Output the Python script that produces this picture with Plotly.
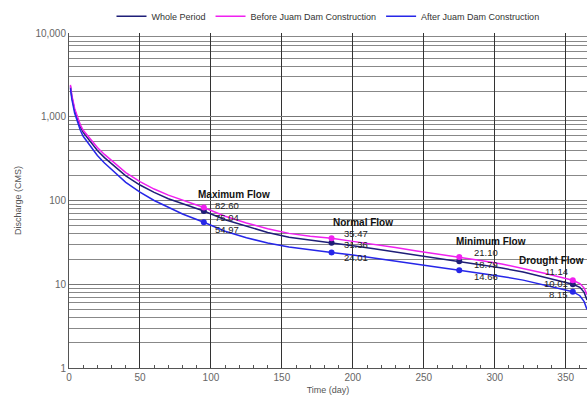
import math
import plotly.graph_objects as go

# ---- data ----
days = [1, 2, 4, 6, 8, 10, 15, 20, 25, 30, 40, 50, 60, 70, 80, 95, 110, 125, 140, 155,
        170, 185, 200, 215, 230, 245, 260, 275, 290, 305, 320, 335, 345, 355, 360, 363, 365]
whole = [2300, 1720, 1190, 930, 760, 650, 500, 395, 325, 275, 197, 153, 125, 105, 91,
         75.04, 59, 49, 41.5, 36.5, 33.5, 31.36, 28.8, 26.5, 24.3, 22.2, 20.4, 18.79, 17.1,
         15.6, 14, 12.2, 11.1, 10.01, 9.2, 8, 6.5]
before = [2400, 1800, 1250, 980, 800, 690, 540, 430, 355, 300, 215, 168, 137, 116, 101,
          82.6, 65, 54, 46, 40.5, 37.5, 35.47, 32.5, 30, 27.5, 25, 23, 21.1, 19.2,
          17.5, 15.5, 13.5, 12.3, 11.14, 10.2, 9, 7.5]
after = [2200, 1620, 1100, 850, 690, 585, 445, 345, 280, 235, 165, 126, 100, 83, 69,
         54.97, 43, 36, 31, 27.8, 25.6, 24.01, 22.3, 20.6, 19, 17.5, 16, 14.66, 13.5,
         12.4, 11.2, 9.8, 8.9, 8.15, 7.3, 6.2, 5]

flow_names = ["Maximum Flow", "Normal Flow", "Minimum Flow", "Drought Flow"]
flow_days = [95, 185, 275, 355]
flow_before = [82.60, 35.47, 21.10, 11.14]
flow_whole = [75.04, 31.36, 18.79, 10.01]
flow_after = [54.97, 24.01, 14.66, 8.15]

series_names = ["Whole Period", "Before Juam Dam Construction", "After Juam Dam Construction"]
y_tick_vals = [1, 10, 100, 1000, 10000]
y_tick_text = ["1", "10", "100", "1,000", "10,000"]

C_WHOLE = "#1e1e78"
C_BEFORE = "#f020f0"
C_AFTER = "#2626e8"

fig = go.Figure()
for name, ys, col in zip(series_names, [whole, before, after], [C_WHOLE, C_BEFORE, C_AFTER]):
    fig.add_trace(go.Scatter(x=days, y=ys, mode="lines", name=name,
                             line=dict(color=col, width=1.5)))

for ys, col in zip([flow_whole, flow_before, flow_after], [C_WHOLE, C_BEFORE, C_AFTER]):
    fig.add_trace(go.Scatter(x=flow_days, y=ys, mode="markers", showlegend=False,
                             marker=dict(color=col, size=6)))

# label styling offsets (pixels)
title_shift = [(-8, 13), (-1, 16), (-5, 16), (-56, 20)]
val_xshift = [9, 10, 13, -3]
val_anchor = ["left", "left", "left", "right"]
val_yshift = [(2, -6.5, -7), (5, -2, -5), (5, -3, -6), (9, 1, -3)]

annotations = []
for i, nm in enumerate(flow_names):
    d = flow_days[i]
    annotations.append(dict(x=d, y=math.log10(flow_before[i]), xref="x", yref="y",
                            text="<b>" + nm + "</b>", showarrow=False,
                            xanchor="left", yanchor="middle",
                            xshift=title_shift[i][0], yshift=title_shift[i][1],
                            font=dict(family="Liberation Sans, Arial", size=10, color="#111")))
    for j, v in enumerate([flow_before[i], flow_whole[i], flow_after[i]]):
        annotations.append(dict(x=d, y=math.log10(v), xref="x", yref="y",
                                text="%.2f" % v, showarrow=False,
                                xanchor=val_anchor[i], yanchor="middle",
                                xshift=val_xshift[i], yshift=val_yshift[i][j],
                                font=dict(family="Liberation Sans, Arial", size=9.5, color="#222")))

fig.update_layout(
    width=587, height=407,
    margin=dict(l=69, r=0, t=33, b=39),
    paper_bgcolor="white", plot_bgcolor="white",
    font=dict(family="Liberation Sans, Arial", size=9, color="#555"),
    legend=dict(orientation="h", x=0.5, xanchor="center", y=1.05, yanchor="middle",
                font=dict(size=9, color="#333"), itemwidth=30, tracegroupgap=0,
                bgcolor="rgba(0,0,0,0)"),
    annotations=annotations,
    showlegend=True,
)
fig.update_xaxes(range=[0, 365], dtick=50, tick0=0, showgrid=True, gridcolor="#333",
                 gridwidth=1, showline=True, linecolor="#555", linewidth=1,
                 zeroline=False, ticks="", tickfont=dict(size=10, color="#666"),
                 minor=dict(dtick=10, ticks="inside", ticklen=3, tickcolor="#555", showgrid=False),
                 title=dict(text="Time (day)", font=dict(size=9, color="#555"), standoff=4))
fig.update_yaxes(type="log", range=[0, 4], tickvals=y_tick_vals, ticktext=y_tick_text,
                 showgrid=True, gridcolor="#777", gridwidth=1,
                 showline=True, linecolor="#555", linewidth=1, zeroline=False,
                 ticks="", tickfont=dict(size=10, color="#666"),
                 minor=dict(dtick="D1", showgrid=True, gridcolor="#888", gridwidth=1, ticks=""),
                 title=dict(text="Discharge (CMS)", font=dict(size=9, color="#555"), standoff=12))

fig.write_html("out.html")
